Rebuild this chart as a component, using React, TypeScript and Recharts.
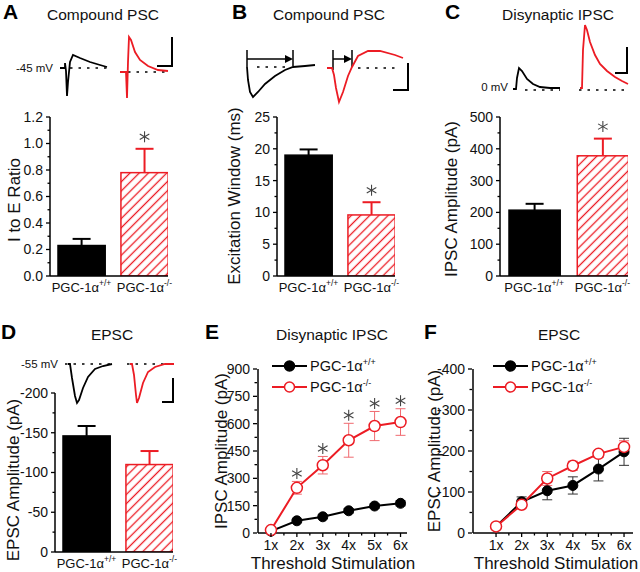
import React from "react";
import {
  BarChart,
  Bar,
  XAxis,
  YAxis,
  LineChart,
  Line,
  ErrorBar,
  ReferenceLine,
  Legend,
} from "recharts";

const FONT = "'Liberation Sans', Arial, Helvetica, sans-serif";
const RED = "#ec1c24";
const RED_ERR = "#f06a70";

// ---------- genotypes (bar panels)
const genotypes = ["PGC-1α", "PGC-1α"];
const genotypeSup = ["+/+", "-/-"];
const genotypePos = [1, 2];

// A: compound PSC, I to E ratio
const ieMean = [0.23, 0.78];
const ieSem = [0.05, 0.18];
const ieSig = [false, true];
const ieMajor = [0, 0.2, 0.4, 0.6, 0.8, 1.0, 1.2];
const ieMinor = [0.1, 0.3, 0.5, 0.7, 0.9, 1.1];

// B: excitation window (ms)
const exMean = [19.0, 9.6];
const exSem = [0.9, 2.0];
const exSig = [false, true];
const exMajor = [0, 5, 10, 15, 20, 25];
const exMinor = [2.5, 7.5, 12.5, 17.5, 22.5];

// C: disynaptic IPSC amplitude (pA)
const ipscMean = [207, 378];
const ipscSem = [20, 54];
const ipscSig = [false, true];
const ipscMajor = [0, 100, 200, 300, 400, 500];
const ipscMinor = [50, 150, 250, 350, 450];

// D: EPSC amplitude (pA)
const epscMean = [-146, -110];
const epscSem = [12.5, 17];
const epscSig = [false, false];
const epscMajor = [-200, -150, -100, -50, 0];
const epscMinor = [-175, -125, -75, -25];

// ---------- threshold stimulation (line panels)
const stimLabels = ["1x", "2x", "3x", "4x", "5x", "6x"];
const stimPos = [1, 2, 3, 4, 5, 6];
const stimMinor = [1.5, 2.5, 3.5, 4.5, 5.5];

// E: disynaptic IPSC
const eWt = [10, 67, 89, 122, 148, 163];
const eWtSem = [3, 8, 10, 12, 12, 14];
const eKo = [16, 248, 372, 509, 587, 609];
const eKoSem = [8, 35, 48, 93, 80, 73];
const eSig = [false, true, true, true, true, true];
const eMajor = [0, 150, 300, 450, 600, 750, 900];
const eMinor = [75, 225, 375, 525, 675, 825];

// F: EPSC
const fWt = [-16, -76, -103, -116, -156, -198];
const fWtSem = [4, 12, 22, 21, 29, 33];
const fKo = [-16, -69, -133, -164, -193, -210];
const fKoSem = [5, 8, 17, 11, 8, 15];
const fSig = [false, false, false, false, false, false];
const fMajor = [-400, -300, -200, -100, 0];
const fMinor = [-350, -250, -150, -50];

// ---------- example traces: [time, amplitude] in arbitrary units
type Pt = [number, number];
const traceAWt: Pt[] = [[0, 2], [5, 2], [5, 7], [6, -1], [7, -26], [8, -12], [10, 8], [13, 15], [20, 12], [30, 8], [40, 5], [47, 3]];
const traceAKo: Pt[] = [[60, -2], [66, -2], [67, -28], [68, 8], [69, 33], [71, 30], [75, 18], [80, 10], [88, 4], [98, 0], [108, -1]];
const traceBWt: Pt[] = [[7, 0], [8, -13], [10, -25], [13, -30], [18, -25], [25, -17], [35, -9], [45, -3], [53, 0], [65, 1], [75, 2]];
const traceBKo: Pt[] = [[87, -1], [92, -1], [94, -8], [96, -21], [99, -35], [103, -25], [108, -9], [112, 0], [118, 11], [128, 16], [140, 16], [155, 12], [163, 9]];
const traceCWt: Pt[] = [[8, 0], [11, 0], [12, 11], [14, 21], [17, 18], [22, 10], [28, 5], [35, 2], [45, 1], [55, 1]];
const traceCKo: Pt[] = [[75, 1], [77, 1], [78, 39], [80, 64], [82, 59], [85, 47], [90, 34], [95, 25], [102, 18], [110, 12], [117, 8], [123, 5]];
const traceDWt: Pt[] = [[8, 0], [10, 0], [12, -14], [15, -32], [17, -39], [19, -36], [23, -24], [28, -13], [35, -5], [43, -2], [52, 0]];
const traceDKo: Pt[] = [[70, 0], [72, 0], [74, -11], [76, -31], [77, -39], [79, -34], [83, -19], [88, -8], [95, -3], [105, 0], [114, 0]];
const scaleA: Pt[] = [[97, 4], [112, 4], [112, 33]];
const scaleB: Pt[] = [[153, -23], [168, -23], [168, 4]];
const scaleC: Pt[] = [[110, 16], [122, 16], [122, 42]];
const scaleD: Pt[] = [[102, -38], [113, -38], [113, -14]];

const near = (arr: number[], v: number) => arr.some((m) => Math.abs(m - v) < 1e-6);

function Asterisk({ cx, cy, r = 5.5, color = "#444" }: { cx: number; cy: number; r?: number; color?: string }) {
  return (
    <g stroke={color} strokeWidth={1.1}>
      <line x1={cx} x2={cx} y1={cy - r} y2={cy + r} />
      <line x1={cx - r * 0.87} x2={cx + r * 0.87} y1={cy - r * 0.5} y2={cy + r * 0.5} />
      <line x1={cx - r * 0.87} x2={cx + r * 0.87} y1={cy + r * 0.5} y2={cy - r * 0.5} />
    </g>
  );
}

const yTick = (majors: number[], fmt: (v: number) => string) => (p: any) => {
  const v = p.payload.value;
  const major = near(majors, v);
  const ax = p.x + 6;
  return (
    <g>
      <line x1={ax - (major ? 4 : 2.5)} x2={ax} y1={p.y} y2={p.y} stroke="#000" strokeWidth={1.3} />
      {major && (
        <text x={p.x - 1} y={p.y} dy="0.35em" textAnchor="end" fontSize={14} fontFamily={FONT} fill="#111">
          {fmt(v)}
        </text>
      )}
    </g>
  );
};

const GenotypeTick = (p: any) => {
  const i = genotypePos.indexOf(p.payload.value);
  if (i < 0) return <g />;
  return (
    <text x={p.x} y={p.y + 9.5} textAnchor="middle" fontSize={13} fontFamily={FONT} fill="#111">
      {genotypes[i]}
      <tspan dy={-5.5} fontSize={8.5}>
        {genotypeSup[i]}
      </tspan>
    </text>
  );
};

const StimTick = (p: any) => {
  const v = p.payload.value;
  const i = stimPos.indexOf(v);
  const ay = p.y - 7;
  return (
    <g>
      <line x1={p.x} x2={p.x} y1={ay} y2={ay + (i >= 0 ? 4 : 2.5)} stroke="#000" strokeWidth={1.3} />
      {i >= 0 && (
        <text x={p.x} y={p.y} dy="0.72em" textAnchor="middle" fontSize={14} fontFamily={FONT} fill="#111">
          {stimLabels[i]}
        </text>
      )}
    </g>
  );
};

const barShape = (patternId: string) => (p: any) => {
  const { x, y, width, height, payload } = p;
  const base = y + height;
  const px = (v: number) => base - (v / payload.mean) * height;
  const errY = px(payload.mean + Math.sign(payload.mean) * payload.sem);
  const cx = x + width / 2;
  const ko = payload.idx === 1;
  const col = ko ? RED : "#000";
  return (
    <g>
      <line x1={cx} x2={cx} y1={y} y2={errY} stroke={col} strokeWidth={2} />
      <line x1={cx - 9} x2={cx + 9} y1={errY} y2={errY} stroke={col} strokeWidth={2} />
      <rect
        x={x}
        y={Math.min(y, base)}
        width={width}
        height={Math.abs(height)}
        fill={ko ? `url(#${patternId})` : "#000"}
        stroke={col}
        strokeWidth={1.5}
      />
      {payload.sig && <Asterisk cx={cx} cy={errY - 12} />}
    </g>
  );
};

type BarPanelProps = {
  id: string;
  plot: [number, number, number, number];
  means: number[];
  sems: number[];
  sig: boolean[];
  majors: number[];
  minors: number[];
  fmt: (v: number) => string;
  reversed?: boolean;
};

function BarPanel({ id, plot, means, sems, sig, majors, minors, fmt, reversed }: BarPanelProps) {
  const [x0, y0, x1, y1] = plot;
  const data = genotypePos.map((pos, i) => ({ pos, mean: means[i], sem: sems[i], sig: sig[i], idx: i }));
  const axisLine = { stroke: "#000", strokeWidth: 1.5 };
  return (
    <div style={{ position: "absolute", left: x0 - 60, top: y0 - 20 }}>
      <BarChart width={x1 - x0 + 65} height={y1 - y0 + 70} data={data} margin={{ top: 20, right: 5, bottom: 10, left: 15 }}>
        <defs>
          <pattern id={id} patternUnits="userSpaceOnUse" width={6.5} height={6.5} patternTransform="rotate(45)">
            <rect width={6.5} height={6.5} fill="#fff" />
            <line x1={3.25} y1={0} x2={3.25} y2={6.5} stroke={RED} strokeWidth={1.3} />
          </pattern>
        </defs>
        <XAxis
          type="number"
          dataKey="pos"
          domain={[0.5, 2.375]}
          ticks={genotypePos}
          tick={GenotypeTick}
          tickLine={false}
          tickSize={4}
          tickMargin={2}
          height={40}
          axisLine={axisLine}
          interval={0}
          allowDataOverflow
        />
        <YAxis
          type="number"
          domain={[Math.min(...majors), Math.max(...majors)]}
          ticks={[...majors, ...minors]}
          tick={yTick(majors, fmt)}
          tickLine={false}
          tickSize={4}
          tickMargin={2}
          width={45}
          axisLine={axisLine}
          interval={0}
          reversed={reversed}
          allowDataOverflow
        />
        <Bar dataKey="mean" barSize={(x1 - x0) * 0.4} shape={barShape(id)} isAnimationActive={false} />
      </BarChart>
    </div>
  );
}

const AstDot = (p: any) => {
  if (p.cy == null || p.value == null || Number.isNaN(p.cy)) return <g key={p.key} />;
  return (
    <g key={p.key}>
      <Asterisk cx={p.cx} cy={p.cy - 8} />
    </g>
  );
};

function StimLegend() {
  const rows = [
    { color: "#000", fill: "#000", sup: "+/+" },
    { color: RED, fill: "#fff", sup: "-/-" },
  ];
  return (
    <svg width={150} height={44} style={{ overflow: "visible" }}>
      {rows.map((r, i) => {
        const y = 11 + i * 21;
        return (
          <g key={i}>
            <line x1={4} x2={39} y1={y} y2={y} stroke={r.color} strokeWidth={2} />
            <circle cx={21.5} cy={y} r={5} fill={r.fill} stroke={r.color} strokeWidth={1.5} />
            <text x={42} y={y} dy="0.35em" fontSize={14.5} fontFamily={FONT} fill="#111">
              {genotypes[i]}
              <tspan dy={-6} fontSize={9}>
                {r.sup}
              </tspan>
            </text>
          </g>
        );
      })}
    </svg>
  );
}

type StimPanelProps = {
  plot: [number, number, number, number];
  xDomain: [number, number];
  wt: number[];
  wtSem: number[];
  ko: number[];
  koSem: number[];
  sig: boolean[];
  majors: number[];
  minors: number[];
  reversed?: boolean;
  legendLeft: number;
};

function StimPanel({ plot, xDomain, wt, wtSem, ko, koSem, sig, majors, minors, reversed, legendLeft }: StimPanelProps) {
  const [x0, y0, x1, y1] = plot;
  const data = stimPos.map((x, i) => ({
    x,
    wt: wt[i],
    wtSem: wtSem[i],
    ko: ko[i],
    koSem: koSem[i],
    ast: sig[i] ? ko[i] + Math.sign(ko[i]) * koSem[i] : null,
  }));
  const axisLine = { stroke: "#000", strokeWidth: 1.5 };
  return (
    <div style={{ position: "absolute", left: x0 - 60, top: y0 - 20 }}>
      <LineChart width={x1 - x0 + 65} height={y1 - y0 + 70} data={data} margin={{ top: 20, right: 5, bottom: 10, left: 15 }}>
        <XAxis
          type="number"
          dataKey="x"
          domain={xDomain}
          ticks={[...stimPos, ...stimMinor]}
          tick={StimTick}
          tickLine={false}
          tickSize={4}
          tickMargin={3}
          height={40}
          axisLine={axisLine}
          interval={0}
          allowDataOverflow
        />
        <YAxis
          type="number"
          domain={[Math.min(...majors), Math.max(...majors)]}
          ticks={[...majors, ...minors]}
          tick={yTick(majors, (v) => String(v))}
          tickLine={false}
          tickSize={4}
          tickMargin={3}
          width={45}
          axisLine={axisLine}
          interval={0}
          reversed={reversed}
        />
        <Legend
          layout="vertical"
          align="center"
          verticalAlign="middle"
          content={() => <StimLegend />}
          wrapperStyle={{ left: legendLeft, top: 6, width: 150, height: 44 }}
        />
        <Line
          dataKey="wt"
          stroke="#000"
          strokeWidth={2}
          dot={{ r: 5, fill: "#000", stroke: "#000", strokeWidth: 1 }}
          activeDot={false}
          isAnimationActive={false}
        >
          <ErrorBar dataKey="wtSem" direction="y" width={5} stroke="#333" strokeWidth={1} />
        </Line>
        <Line
          dataKey="ko"
          stroke={RED}
          strokeWidth={2}
          dot={{ r: 5.5, fill: "#fff", stroke: RED, strokeWidth: 1.5 }}
          activeDot={false}
          isAnimationActive={false}
        >
          <ErrorBar dataKey="koSem" direction="y" width={5} stroke={RED_ERR} strokeWidth={1} />
        </Line>
        <Line dataKey="ast" stroke="none" dot={AstDot} activeDot={false} legendType="none" isAnimationActive={false} />
      </LineChart>
    </div>
  );
}

const ArrowShape = (p: any) => {
  const { x1, y1, x2, y2 } = p;
  return (
    <g>
      <line x1={x1} y1={y1} x2={x2 - 6} y2={y2} stroke="#000" strokeWidth={1.5} />
      <polygon points={`${x2},${y2} ${x2 - 8},${y2 - 4} ${x2 - 8},${y2 + 4}`} fill="#000" />
    </g>
  );
};

type Seg = [number, number, number, number];
type TraceProps = {
  box: [number, number, number, number];
  yDomain: [number, number];
  wt: Pt[];
  ko: Pt[];
  scale: Pt[];
  baselines: Seg[];
  ticks?: Seg[];
  arrows?: Seg[];
};

function TracePanel({ box, yDomain, wt, ko, scale, baselines, ticks = [], arrows = [] }: TraceProps) {
  const [left, top, w, h] = box;
  const toData = (pts: Pt[]) => pts.map(([t, v]) => ({ t, v }));
  return (
    <div style={{ position: "absolute", left, top }}>
      <LineChart width={w} height={h} margin={{ top: 0, right: 0, bottom: 0, left: 0 }}>
        <XAxis type="number" dataKey="t" domain={[0, w]} hide />
        <YAxis type="number" domain={yDomain} hide />
        {baselines.map(([t0, v0, t1, v1], i) => (
          <ReferenceLine
            key={`b${i}`}
            segment={[{ x: t0, y: v0 }, { x: t1, y: v1 }]}
            stroke="#000"
            strokeWidth={1.6}
            strokeDasharray="2.5 6"
            ifOverflow="visible"
          />
        ))}
        {ticks.map(([t0, v0, t1, v1], i) => (
          <ReferenceLine key={`k${i}`} segment={[{ x: t0, y: v0 }, { x: t1, y: v1 }]} stroke="#000" strokeWidth={1.5} ifOverflow="visible" />
        ))}
        {arrows.map(([t0, v0, t1, v1], i) => (
          <ReferenceLine key={`a${i}`} segment={[{ x: t0, y: v0 }, { x: t1, y: v1 }]} shape={ArrowShape} ifOverflow="visible" />
        ))}
        <Line data={toData(wt)} dataKey="v" type="linear" stroke="#000" strokeWidth={1.8} dot={false} activeDot={false} isAnimationActive={false} />
        <Line data={toData(ko)} dataKey="v" type="linear" stroke={RED} strokeWidth={1.8} dot={false} activeDot={false} isAnimationActive={false} />
        <Line data={toData(scale)} dataKey="v" type="linear" stroke="#000" strokeWidth={2} dot={false} activeDot={false} isAnimationActive={false} />
      </LineChart>
    </div>
  );
}

const letters: [string, number, number][] = [
  ["A", 3, 19],
  ["B", 232, 19],
  ["C", 445, 19],
  ["D", 1, 339],
  ["E", 205, 339],
  ["F", 424, 339],
];
const titles: [string, number, number][] = [
  ["Compound PSC", 103, 20],
  ["Compound PSC", 329, 20],
  ["Disynaptic IPSC", 558, 20],
  ["EPSC", 112, 340],
  ["Disynaptic IPSC", 332, 340],
  ["EPSC", 559, 340],
];
const yLabels: [string, number, number][] = [
  ["I to E Ratio", 14, 200],
  ["Excitation Window (ms)", 234, 196],
  ["IPSC Amplitude (pA)", 451, 199],
  ["EPSC Amplitude (pA)", 13, 480],
  ["IPSC Amplitude (pA)", 221, 451],
  ["EPSC Amplitude (pA)", 434, 451],
];
const potentials: [string, number, number][] = [
  ["-45 mV", 53, 68],
  ["0 mV", 508, 87],
  ["-55 mV", 58, 364],
];

export default function App() {
  return (
    <div
      style={{
        position: "absolute",
        left: 0,
        top: 0,
        width: 640,
        height: 572,
        overflow: "hidden",
        background: "#fff",
        fontFamily: FONT,
      }}
    >
      <TracePanel
        box={[60, 30, 120, 72]}
        yDomain={[-32, 40]}
        wt={traceAWt}
        ko={traceAKo}
        scale={scaleA}
        baselines={[[10, 2, 47, 2], [68, -2, 108, -2]]}
      />
      <TracePanel
        box={[240, 40, 175, 70]}
        yDomain={[-43, 27]}
        wt={traceBWt}
        ko={traceBKo}
        scale={scaleB}
        baselines={[[17, 0, 50, 0], [118, -1, 158, -1]]}
        ticks={[[7, 0, 7, 17], [53, 1, 53, 17], [93, -3, 93, 17], [112, 0, 112, 17]]}
        arrows={[[7, 8, 53, 8], [93, 8, 112, 8]]}
      />
      <TracePanel
        box={[505, 20, 130, 75]}
        yDomain={[-6, 69]}
        wt={traceCWt}
        ko={traceCKo}
        scale={scaleC}
        baselines={[[20, -1, 55, -1], [74, -1, 120, -1]]}
      />
      <TracePanel
        box={[60, 355, 120, 55]}
        yDomain={[-46, 9]}
        wt={traceDWt}
        ko={traceDKo}
        scale={scaleD}
        baselines={[[5, 0, 50, 0], [67, 0, 113, 0]]}
      />

      <BarPanel id="hatchA" plot={[50, 117, 168, 276]} means={ieMean} sems={ieSem} sig={ieSig} majors={ieMajor} minors={ieMinor} fmt={(v) => v.toFixed(1)} />
      <BarPanel id="hatchB" plot={[277, 117, 395, 276]} means={exMean} sems={exSem} sig={exSig} majors={exMajor} minors={exMinor} fmt={(v) => String(v)} />
      <BarPanel id="hatchC" plot={[500, 117, 628, 276]} means={ipscMean} sems={ipscSem} sig={ipscSig} majors={ipscMajor} minors={ipscMinor} fmt={(v) => String(v)} />
      <BarPanel id="hatchD" plot={[55, 393, 173, 552]} means={epscMean} sems={epscSem} sig={epscSig} majors={epscMajor} minors={epscMinor} fmt={(v) => String(v)} reversed />

      <StimPanel plot={[258, 369, 407, 533]} xDomain={[0.5, 6.25]} wt={eWt} wtSem={eWtSem} ko={eKo} koSem={eKoSem} sig={eSig} majors={eMajor} minors={eMinor} legendLeft={70} />
      <StimPanel plot={[473, 369, 633, 533]} xDomain={[0.1, 6.35]} wt={fWt} wtSem={fWtSem} ko={fKo} koSem={fKoSem} sig={fSig} majors={fMajor} minors={fMinor} reversed legendLeft={76} />

      <svg width={640} height={572} style={{ position: "absolute", left: 0, top: 0, pointerEvents: "none" }}>
        {letters.map(([t, x, y]) => (
          <text key={t} x={x} y={y} fontSize={21} fontWeight="bold" fontFamily={FONT} fill="#000">
            {t}
          </text>
        ))}
        {titles.map(([t, x, y], i) => (
          <text key={i} x={x} y={y} fontSize={15.5} textAnchor="middle" fontFamily={FONT} fill="#111">
            {t}
          </text>
        ))}
        {yLabels.map(([t, x, y], i) => (
          <text
            key={i}
            x={x}
            y={y}
            dy="0.35em"
            fontSize={17}
            textAnchor="middle"
            fontFamily={FONT}
            fill="#111"
            transform={`rotate(-90 ${x} ${y})`}
          >
            {t}
          </text>
        ))}
        {[333, 556].map((x) => (
          <text key={x} x={x} y={569} fontSize={17} textAnchor="middle" fontFamily={FONT} fill="#111">
            Threshold Stimulation
          </text>
        ))}
        {potentials.map(([t, x, y], i) => (
          <text key={i} x={x} y={y} dy="0.35em" fontSize={11.5} textAnchor="end" fontFamily={FONT} fill="#111">
            {t}
          </text>
        ))}
      </svg>
    </div>
  );
}
